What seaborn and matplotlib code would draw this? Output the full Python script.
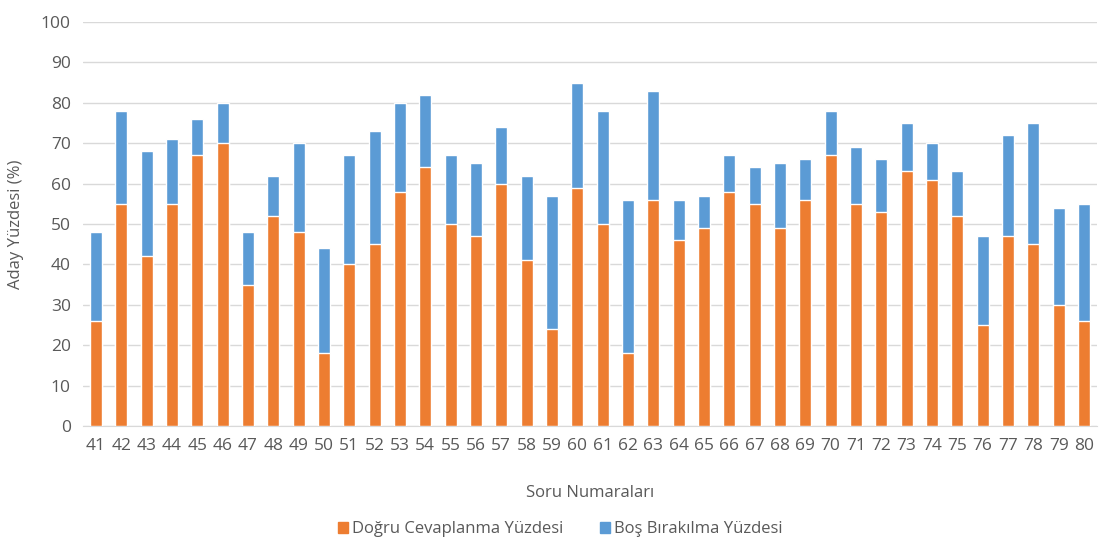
import numpy as np
import pandas as pd
import matplotlib.pyplot as plt
import matplotlib.patches as mpatches
import seaborn as sns

questions = [str(q) for q in range(41, 81)]
dogru = [26, 55, 42, 55, 67, 70, 35, 52, 48, 18,
         40, 45, 58, 64, 50, 47, 60, 41, 24, 59,
         50, 18, 56, 46, 49, 58, 55, 49, 56, 67,
         55, 53, 63, 61, 52, 25, 47, 45, 30, 26]
toplam = [48, 78, 68, 71, 76, 80, 48, 62, 70, 44,
          67, 73, 80, 82, 67, 65, 74, 62, 57, 85,
          78, 56, 83, 56, 57, 67, 64, 65, 66, 78,
          69, 66, 75, 70, 63, 47, 72, 75, 54, 55]
bos = [t - d for t, d in zip(toplam, dogru)]

df = pd.DataFrame({'soru': questions, 'dogru': dogru, 'bos': bos})
df['toplam'] = df['dogru'] + df['bos']

sns.set_style('white')
plt.rcParams['font.family'] = ['Open Sans', 'DejaVu Sans']
grey = '#595959'
orange = '#ED7D31'
blue = '#5B9BD5'

fig = plt.figure(figsize=(11.1, 5.41), dpi=100)
ax = fig.add_axes([0.075, 0.2126, 0.913, 0.7467])

sns.barplot(data=df, x='soru', y='toplam', color=blue, width=0.47,
            saturation=1, ax=ax, zorder=3)
sns.barplot(data=df, x='soru', y='dogru', color=orange, width=0.47,
            saturation=1, ax=ax, zorder=3)

ax.set_ylim(0, 100)
ax.set_xlim(-0.5, len(questions) - 0.5)
ax.set_yticks(np.arange(0, 101, 10))
ax.yaxis.grid(True, color='#D9D9D9', linewidth=1, zorder=0)
for s in ['top', 'right', 'left']:
    ax.spines[s].set_visible(False)
ax.spines['bottom'].set_color('#D9D9D9')
ax.tick_params(axis='both', length=0, labelsize=12.5, labelcolor=grey, pad=9)
ax.set_xlabel('Soru Numaraları', fontsize=12, color=grey, labelpad=22)
ax.set_ylabel('Aday Yüzdesi (%)', fontsize=12, color=grey, labelpad=12)

handles = [mpatches.Patch(color=orange, label='Doğru Cevaplanma Yüzdesi'),
           mpatches.Patch(color=blue, label='Boş Bırakılma Yüzdesi')]
fig.legend(handles=handles, loc='center', bbox_to_anchor=(0.505, 0.022),
           ncol=2, frameon=False, fontsize=12, handlelength=0.6,
           handleheight=0.6, handletextpad=0.25, columnspacing=2.2,
           labelcolor=grey)

fig.savefig('out.png', dpi=100)
